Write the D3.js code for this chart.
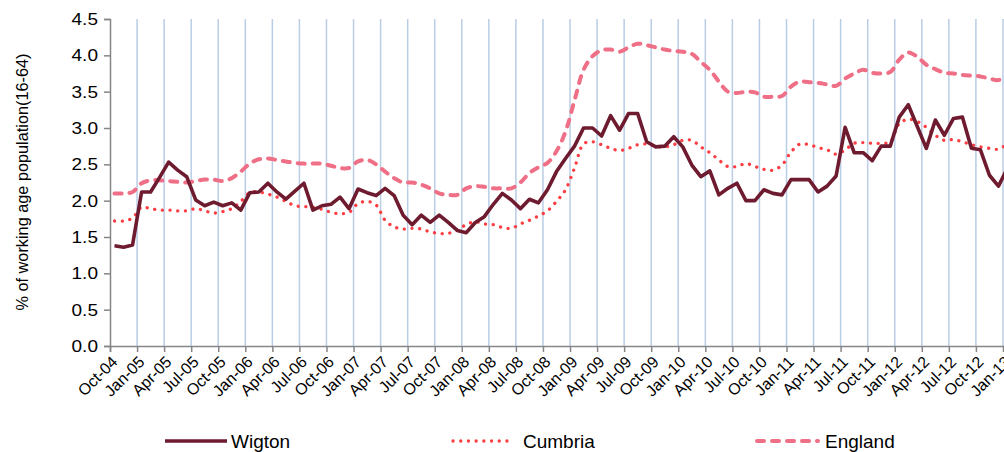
<!DOCTYPE html>
<html>
<head>
<meta charset="utf-8">
<script src="https://cdn.jsdelivr.net/npm/d3@7"></script>
<style>
  html, body { margin: 0; padding: 0; background: #fff; }
  svg { display: block; font-family: "Liberation Sans", Arial, sans-serif; }
</style>
</head>
<body>
<svg id="chart" width="1004" height="452"></svg>
<script>
// Monthly claimant rates, Oct-04 .. Jan-13 (% of working age population 16-64)
const seriesNames = ["Wigton", "Cumbria", "England"];

const wigton = [
  1.38, 1.36, 1.39, 2.12, 2.12, 2.32, 2.53, 2.42, 2.33, 2.01, 1.93, 1.98,
  1.93, 1.97, 1.87, 2.11, 2.12, 2.24, 2.12, 2.02, 2.13, 2.24, 1.87, 1.93,
  1.95, 2.05, 1.89, 2.16, 2.11, 2.07, 2.17, 2.07, 1.80, 1.67, 1.80, 1.70,
  1.80, 1.70, 1.59, 1.56, 1.70, 1.78, 1.95, 2.10, 2.01, 1.89, 2.02, 1.97,
  2.15, 2.40, 2.58, 2.75, 3.00, 3.00, 2.89, 3.17, 2.97, 3.20, 3.20, 2.81,
  2.74, 2.75, 2.88, 2.74, 2.49, 2.33, 2.41, 2.08, 2.17, 2.24, 2.00, 2.00,
  2.15, 2.10, 2.08, 2.29, 2.29, 2.29, 2.12, 2.20, 2.34, 3.01, 2.66, 2.66,
  2.55, 2.75, 2.75, 3.15, 3.32, 3.02, 2.72, 3.11, 2.90, 3.13, 3.15, 2.72,
  2.70, 2.35, 2.20, 2.45
];

const cumbria = [
  1.72, 1.72, 1.76, 1.91, 1.89, 1.87, 1.87, 1.86, 1.86, 1.89, 1.86, 1.83,
  1.85, 1.89, 1.99, 2.11, 2.12, 2.09, 2.05, 1.99, 1.93, 1.92, 1.91, 1.88,
  1.84, 1.82, 1.84, 1.96, 1.99, 1.94, 1.73, 1.64, 1.61, 1.62, 1.61, 1.57,
  1.55, 1.55, 1.60, 1.67, 1.71, 1.68, 1.67, 1.63, 1.62, 1.68, 1.73, 1.79,
  1.86, 1.99, 2.15, 2.45, 2.78, 2.81, 2.77, 2.72, 2.69, 2.72, 2.77, 2.78,
  2.75, 2.74, 2.77, 2.83, 2.83, 2.74, 2.66, 2.56, 2.47, 2.47, 2.51, 2.47,
  2.43, 2.42, 2.49, 2.67, 2.78, 2.77, 2.73, 2.70, 2.64, 2.70, 2.79, 2.80,
  2.79, 2.79, 2.81, 3.06, 3.12, 3.09, 3.01, 2.90, 2.83, 2.84, 2.81, 2.77,
  2.74, 2.72, 2.71, 2.78
];

const england = [
  2.10, 2.10, 2.12, 2.24, 2.28, 2.28, 2.27, 2.26, 2.25, 2.27, 2.29, 2.29,
  2.27, 2.31, 2.40, 2.51, 2.57, 2.58, 2.56, 2.54, 2.52, 2.51, 2.51, 2.51,
  2.48, 2.45, 2.45, 2.54, 2.56, 2.50, 2.40, 2.31, 2.25, 2.25, 2.22, 2.17,
  2.10, 2.08, 2.08, 2.17, 2.20, 2.19, 2.17, 2.17, 2.17, 2.25, 2.38, 2.46,
  2.52, 2.68, 2.95, 3.38, 3.80, 3.99, 4.07, 4.08, 4.05, 4.11, 4.16, 4.14,
  4.11, 4.08, 4.06, 4.05, 4.02, 3.91, 3.80, 3.64, 3.50, 3.48, 3.50, 3.49,
  3.43, 3.43, 3.44, 3.57, 3.64, 3.63, 3.62, 3.60, 3.58, 3.68, 3.75, 3.80,
  3.76, 3.75, 3.77, 3.94, 4.04, 3.98, 3.87, 3.81, 3.76, 3.75, 3.73, 3.72,
  3.71, 3.68, 3.66, 3.74
];

// Quarterly tick labels (every third month, starting Oct-04)
const tickLabels = [
  "Oct-04", "Jan-05", "Apr-05", "Jul-05", "Oct-05", "Jan-06", "Apr-06", "Jul-06",
  "Oct-06", "Jan-07", "Apr-07", "Jul-07", "Oct-07", "Jan-08", "Apr-08", "Jul-08",
  "Oct-08", "Jan-09", "Apr-09", "Jul-09", "Oct-09", "Jan-10", "Apr-10", "Jul-10",
  "Oct-10", "Jan-11", "Apr-11", "Jul-11", "Oct-11", "Jan-12", "Apr-12", "Jul-12",
  "Oct-12", "Jan-13"
];

const yTicks = [0, 0.5, 1, 1.5, 2, 2.5, 3, 3.5, 4, 4.5];

const svg = d3.select("#chart");

const plot = { left: 110, top: 19, bottom: 346, monthWidth: 9.02 };
const nMonths = wigton.length;

// Category axis: each month occupies one slot; points sit mid-slot,
// tick marks sit on slot boundaries every three months.
const x = d3.scaleLinear()
  .domain([0, nMonths])
  .range([plot.left, plot.left + nMonths * plot.monthWidth]);

const y = d3.scaleLinear()
  .domain([0, 4.5])
  .range([plot.bottom, plot.top]);

const tickIdx = tickLabels.map((_, k) => k * 3);

// Vertical quarter gridlines
svg.append("g")
  .selectAll("line")
  .data(tickIdx.slice(1))
  .join("line")
  .attr("x1", d => x(d)).attr("x2", d => x(d))
  .attr("y1", y(4.5)).attr("y2", y(0))
  .attr("stroke", "#b9cde5")
  .attr("stroke-width", 1.5);

// Y axis
const yAxis = svg.append("g")
  .attr("transform", `translate(${plot.left},0)`)
  .call(d3.axisLeft(y).tickValues(yTicks).tickFormat(d3.format(".1f")).tickSize(6).tickPadding(6));
yAxis.select(".domain").attr("stroke", "#868686").attr("stroke-width", 1.5);
yAxis.selectAll(".tick line").attr("stroke", "#868686").attr("stroke-width", 1.5);
yAxis.selectAll(".tick text")
  .attr("font-size", 17)
  .attr("fill", "#000")
  .attr("font-family", "Liberation Sans, Arial, sans-serif")
  .attr("x", null)
  .attr("transform", "translate(-12,0) scale(1.12,1)");

// X axis
const xAxis = svg.append("g")
  .attr("transform", `translate(0,${plot.bottom})`)
  .call(d3.axisBottom(x).tickValues(tickIdx).tickFormat((d, k) => tickLabels[k]).tickSizeOuter(0).tickSize(6));
xAxis.select(".domain").attr("stroke", "#868686").attr("stroke-width", 1.5);
xAxis.selectAll(".tick line").attr("stroke", "#868686").attr("stroke-width", 1.5);
xAxis.selectAll(".tick text")
  .attr("font-size", 16)
  .attr("fill", "#000")
  .attr("font-family", "Liberation Sans, Arial, sans-serif")
  .attr("text-anchor", "end")
  .attr("dy", null)
  .attr("y", 0)
  .attr("transform", "translate(8,17) rotate(-45)");

// Y axis title
svg.append("text")
  .attr("transform", `translate(28,182) rotate(-90)`)
  .attr("text-anchor", "middle")
  .attr("font-size", 16.3)
  .attr("fill", "#000")
  .text("% of working age population(16-64)");

// Series lines
const styles = {
  Wigton:  { data: wigton,  color: "#6e1b30", width: 3.6, dash: null,     cap: "butt",  curve: d3.curveLinear },
  Cumbria: { data: cumbria, color: "#fb3f45", width: 3.3, dash: "0.1 7.6", cap: "round", curve: d3.curveCatmullRom },
  England: { data: england, color: "#ef6f87", width: 4,   dash: "7 8",     cap: "round", curve: d3.curveCatmullRom }
};

const drawOrder = ["England", "Cumbria", "Wigton"];
drawOrder.forEach(name => {
  const s = styles[name];
  const line = d3.line()
    .x((d, i) => x(i + 0.5))
    .y(d => y(d))
    .curve(s.curve);
  svg.append("path")
    .datum(s.data)
    .attr("fill", "none")
    .attr("stroke", s.color)
    .attr("stroke-width", s.width)
    .attr("stroke-linejoin", "round")
    .attr("stroke-linecap", s.cap)
    .attr("stroke-dasharray", s.dash)
    .attr("d", line);
});

// Legend: key line span and label start for each series
const legendPos = {
  Wigton:  { x1: 165, x2: 227, tx: 231 },
  Cumbria: { x1: 453, x2: 508, tx: 523 },
  England: { x1: 757, x2: 818, tx: 825 }
};
const legend = svg.append("g");
seriesNames.forEach(name => {
  const s = styles[name];
  const p = legendPos[name];
  legend.append("line")
    .attr("x1", p.x1).attr("x2", p.x2)
    .attr("y1", 441).attr("y2", 441)
    .attr("stroke", s.color)
    .attr("stroke-width", s.width)
    .attr("stroke-linecap", s.cap)
    .attr("stroke-dasharray", s.dash);
  legend.append("text")
    .attr("x", p.tx)
    .attr("y", 448)
    .attr("font-size", 19)
    .attr("fill", "#000")
    .text(name);
});
</script>
</body>
</html>
